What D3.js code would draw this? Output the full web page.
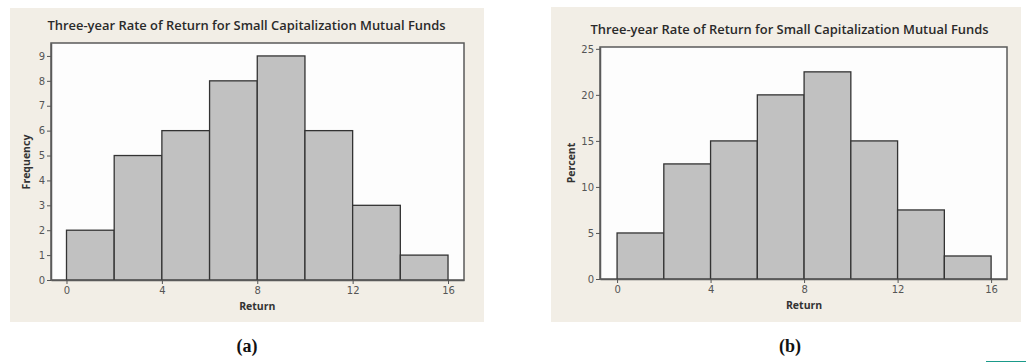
<!DOCTYPE html>
<html>
<head>
<meta charset="utf-8">
<script src="https://cdn.jsdelivr.net/npm/d3@7"></script>
<style>
  html, body { margin: 0; padding: 0; background: #ffffff; }
  svg { display: block; }
  .tick text { font-family: "DejaVu Sans", sans-serif; font-size: 10px; fill: #555; }
</style>
</head>
<body>
<svg id="chart" width="1026" height="362"></svg>
<script>
// Histogram bins (rate of return, %) and their heights
const binEdges = [0, 2, 4, 6, 8, 10, 12, 14, 16];
const frequency = [2, 5, 6, 8, 9, 6, 3, 1];
const percent = [5, 12.5, 15, 20, 22.5, 15, 7.5, 2.5];
const xTicks = [0, 4, 8, 12, 16];
const freqTicks = [0, 1, 2, 3, 4, 5, 6, 7, 8, 9];
const pctTicks = [0, 5, 10, 15, 20, 25];
const title = "Three-year Rate of Return for Small Capitalization Mutual Funds";

const svg = d3.select("#chart");

function histogram(cfg) {
  const g = svg.append("g");
  // panel background
  g.append("rect")
    .attr("x", cfg.panel[0]).attr("y", cfg.panel[1])
    .attr("width", cfg.panel[2]).attr("height", cfg.panel[3])
    .attr("fill", "#f2eee6");

  const x = d3.scaleLinear().domain(cfg.xDomain).range([cfg.plot.left, cfg.plot.right]);
  const y = d3.scaleLinear().domain(cfg.yDomain).range([cfg.plot.bottom, cfg.plot.top]);

  // plot area
  g.append("rect")
    .attr("x", cfg.plot.left).attr("y", cfg.plot.top)
    .attr("width", cfg.plot.right - cfg.plot.left)
    .attr("height", cfg.plot.bottom - cfg.plot.top)
    .attr("fill", "#fdfdfd")
    .attr("stroke", "#5a5a5a").attr("stroke-width", 1.5);

  // bars
  g.selectAll("rect.bar").data(cfg.values).join("rect")
    .attr("class", "bar")
    .attr("x", (d, i) => x(binEdges[i]))
    .attr("width", (d, i) => x(binEdges[i + 1]) - x(binEdges[i]))
    .attr("y", d => y(d))
    .attr("height", d => y(0) - y(d))
    .attr("fill", "#c1c1c1")
    .attr("stroke", "#333").attr("stroke-width", 1.3);

  // axes
  const xAxis = g.append("g")
    .attr("transform", `translate(0,${cfg.plot.bottom})`)
    .call(d3.axisBottom(x).tickValues(xTicks).tickSize(4).tickPadding(3).tickSizeOuter(0));
  const yAxis = g.append("g")
    .attr("transform", `translate(${cfg.plot.left},0)`)
    .call(d3.axisLeft(y).tickValues(cfg.yTicks).tickSize(4).tickPadding(2).tickSizeOuter(0));
  [xAxis, yAxis].forEach(a => {
    a.select(".domain").attr("stroke", "#5a5a5a").attr("stroke-width", 1.5);
    a.selectAll(".tick line").attr("stroke", "#555");
  });

  // title
  g.append("text")
    .attr("x", (cfg.plot.left + cfg.plot.right) / 2 + cfg.titleShift)
    .attr("y", cfg.plot.top - 13)
    .attr("text-anchor", "middle")
    .attr("font-family", "'Open Sans', 'DejaVu Sans', sans-serif")
    .attr("font-size", 12.5).attr("font-weight", 600)
    .attr("fill", "#2a2a2a")
    .attr("textLength", 398)
    .attr("lengthAdjust", "spacingAndGlyphs")
    .text(title);

  // axis labels
  g.append("text")
    .attr("x", x(8)).attr("y", cfg.plot.bottom + 30)
    .attr("text-anchor", "middle")
    .attr("font-family", "'Open Sans', 'DejaVu Sans', sans-serif")
    .attr("font-size", 10.5).attr("font-weight", "bold")
    .attr("fill", "#333")
    .text("Return");
  g.append("text")
    .attr("transform", `translate(${cfg.yLabelX},${cfg.yLabelY}) rotate(-90)`)
    .attr("text-anchor", "middle")
    .attr("font-family", "'Open Sans', 'DejaVu Sans', sans-serif")
    .attr("font-size", 10.5).attr("font-weight", "bold")
    .attr("fill", "#333")
    .text(cfg.yLabel);

  // caption below the panel
  svg.append("text")
    .attr("x", cfg.captionX).attr("y", 352)
    .attr("text-anchor", "middle")
    .attr("font-family", "'Liberation Serif', 'Times New Roman', serif")
    .attr("font-size", 18).attr("font-weight", "bold")
    .attr("fill", "#111")
    .text(cfg.caption);
}

histogram({
  panel: [10, 8, 474, 314],
  plot: { left: 51, right: 464, top: 43, bottom: 280 },
  xDomain: [-0.65, 16.67],
  yDomain: [0, 9.52],
  yTicks: freqTicks,
  values: frequency,
  yLabel: "Frequency",
  yLabelX: 30, yLabelY: 162,
  titleShift: -11,
  caption: "(a)", captionX: 247
});

histogram({
  panel: [551, 7, 470, 315],
  plot: { left: 600, right: 1007, top: 47, bottom: 279 },
  xDomain: [-0.73, 16.68],
  yDomain: [0, 25.2],
  yTicks: pctTicks,
  values: percent,
  yLabel: "Percent",
  yLabelX: 575, yLabelY: 163,
  titleShift: -14,
  caption: "(b)", captionX: 790
});

// small marker at the lower right corner
svg.append("line")
  .attr("x1", 986).attr("x2", 1026).attr("y1", 361.5).attr("y2", 361.5)
  .attr("stroke", "#1a9a8a").attr("stroke-width", 1);
</script>
</body>
</html>
